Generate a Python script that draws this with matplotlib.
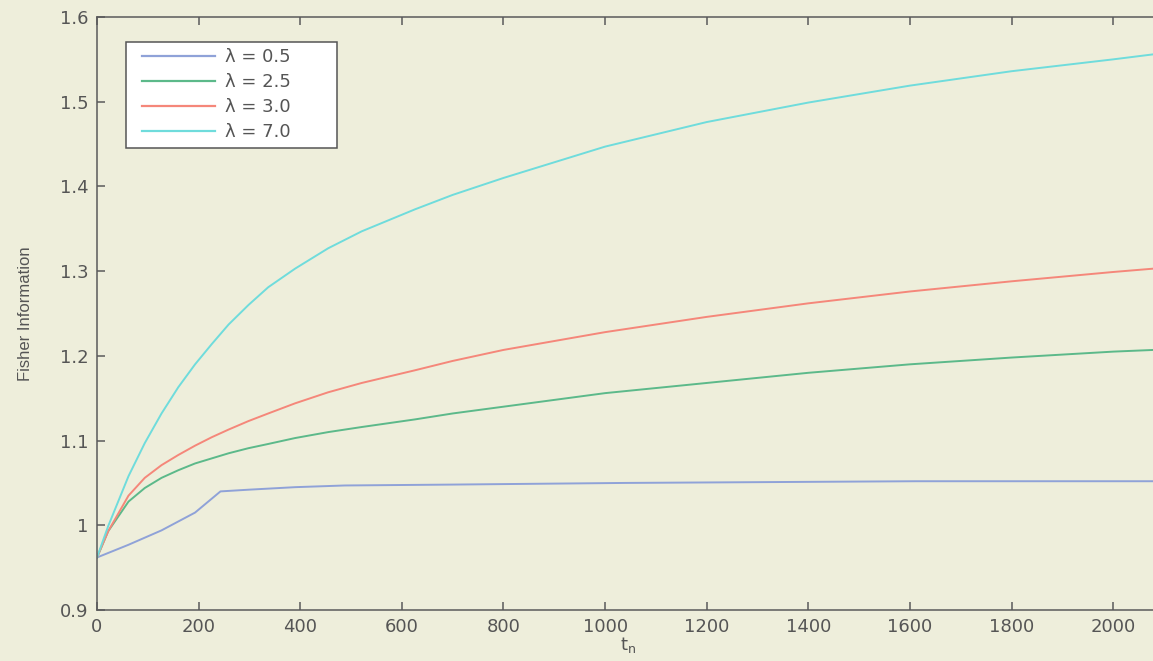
import matplotlib
matplotlib.use('Agg')
from matplotlib import pyplot as plt
from matplotlib.patches import Rectangle

plt.rcParams['font.family'] = ['DejaVu Sans']

# values
t_main = [0, 22, 62, 94, 127, 160, 193, 226, 259, 298, 337, 390, 455, 521,
          626, 700, 800, 1000, 1200, 1400, 1600, 1800, 2000, 2080]
fi_7 = [0.962, 0.999, 1.058, 1.097, 1.132, 1.163, 1.190, 1.214, 1.237, 1.260,
        1.281, 1.303, 1.327, 1.347, 1.373, 1.390, 1.410, 1.447, 1.476, 1.499,
        1.519, 1.536, 1.550, 1.556]
fi_3 = [0.962, 0.993, 1.035, 1.056, 1.071, 1.083, 1.094, 1.104, 1.113, 1.123,
        1.132, 1.144, 1.157, 1.168, 1.183, 1.194, 1.207, 1.228, 1.246, 1.262,
        1.276, 1.288, 1.299, 1.303]
fi_25 = [0.962, 0.993, 1.028, 1.044, 1.056, 1.065, 1.073, 1.079, 1.085, 1.091,
         1.096, 1.103, 1.110, 1.116, 1.125, 1.132, 1.140, 1.156, 1.168, 1.180,
         1.190, 1.198, 1.205, 1.207]
t_05 = [0, 62, 127, 193, 243, 298, 390, 488, 690, 1040, 1610, 2080]
fi_05 = [0.962, 0.977, 0.994, 1.015, 1.040, 1.042, 1.045, 1.047, 1.048,
         1.050, 1.052, 1.052]

labels = ['λ = 0.5', 'λ = 2.5', 'λ = 3.0', 'λ = 7.0']
colors = ['#8fa2d8', '#5cb98a', '#f5877a', '#6fdcdc']
yticks = [0.9, 1.0, 1.1, 1.2, 1.3, 1.4, 1.5, 1.6]
ytick_labels = ['0.9', '1', '1.1', '1.2', '1.3', '1.4', '1.5', '1.6']
xticks = [0, 200, 400, 600, 800, 1000, 1200, 1400, 1600, 1800, 2000]

bg = '#eeeedb'
W, H = 1153, 661
fig = plt.figure(figsize=(W/100, H/100), dpi=100, facecolor=bg)
ax = fig.add_axes([97/W, 51/H, 1067/W, 593/H])
ax.set_facecolor(bg)

ax.plot(t_05, fi_05, color=colors[0], lw=1.4, label=labels[0])
ax.plot(t_main, fi_25, color=colors[1], lw=1.4, label=labels[1])
ax.plot(t_main, fi_3, color=colors[2], lw=1.4, label=labels[2])
ax.plot(t_main, fi_7, color=colors[3], lw=1.4, label=labels[3])

ax.set_xlim(0, 2100)
ax.set_ylim(0.9, 1.6)
ax.set_xticks(xticks)
ax.set_yticks(yticks)
ax.set_yticklabels(ytick_labels)
ax.tick_params(direction='in', top=True, right=True, length=6, width=1.1,
               color='#5a5a5a', labelcolor='#555555', labelsize=13, pad=6)
for s in ax.spines.values():
    s.set_color('#5a5a5a')
    s.set_linewidth(1.1)

ax.set_ylabel('Fisher Information', fontsize=12, color='#555555',
              family=['Liberation Sans Narrow', 'Liberation Sans'])
ax.yaxis.set_label_coords(-0.06, 0.5)
ax.set_xlabel(r'$\mathregular{t_n}$', fontsize=13, color='#555555')
ax.xaxis.set_label_coords(0.498, -0.043)

# legend box drawn by hand, entries without frame
ax.add_patch(Rectangle((126/W, 1-148/H), 211/W, 106/H,
                       transform=fig.transFigure, facecolor='white',
                       edgecolor='#555555', lw=1.1, zorder=6, clip_on=False))
leg = ax.legend(loc='upper left', bbox_to_anchor=(142/W, 1-48.5/H),
                bbox_transform=fig.transFigure, borderaxespad=0, borderpad=0,
                fontsize=13, handlelength=4.05, handletextpad=0.55,
                labelspacing=0.38, frameon=False)
leg.set_zorder(7)
for txt in leg.get_texts():
    txt.set_color('#555555')
for ln in leg.get_lines():
    ln.set_linewidth(1.6)

fig.savefig('out.png', dpi=100, facecolor=bg)
